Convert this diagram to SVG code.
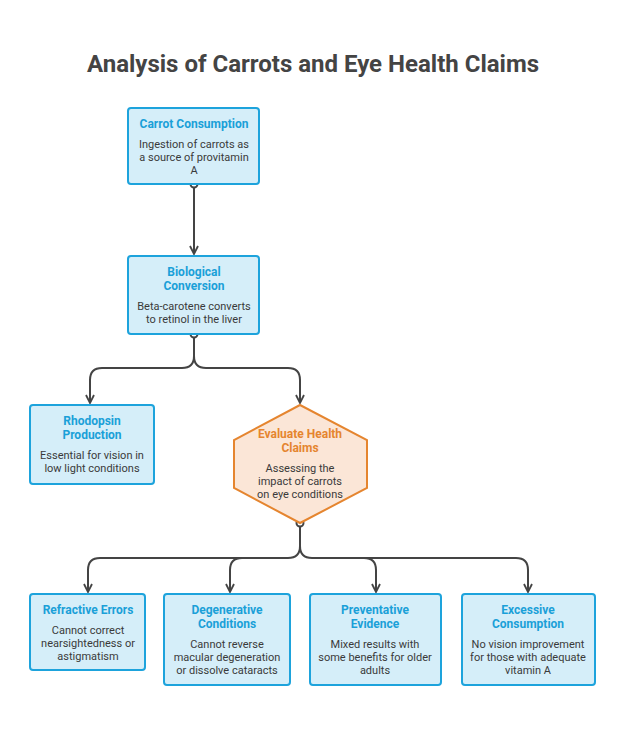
<svg xmlns="http://www.w3.org/2000/svg" width="626" height="740" viewBox="0 0 626 740">
<defs>
<style>
.box{fill:#d5eef9;stroke:#1da3dc;stroke-width:2}
.hex{fill:#fbe6d7;stroke:#e5852f;stroke-width:2}
.t{font-family:Roboto,"Liberation Sans",sans-serif;font-size:12px;font-weight:bold;fill:#1aa0d8;text-anchor:middle}
.to{fill:#e5852f}
.d{font-family:Roboto,"Liberation Sans",sans-serif;font-size:11px;fill:#3a3a3a;text-anchor:middle}
.c{fill:none;stroke:#444;stroke-width:2}
.dot{fill:#fff;stroke:#444;stroke-width:2}
</style>
<marker id="ar" viewBox="0 0 10 10" refX="9" refY="5" markerWidth="10" markerHeight="10" markerUnits="userSpaceOnUse" orient="auto"><path d="M1,1 L9,5 L1,9" fill="none" stroke="#444" stroke-width="1.8"/></marker>
</defs>
<rect width="626" height="740" fill="#fff"/>
<text x="313" y="72" font-family="Roboto,'Liberation Sans',sans-serif" font-size="24" font-weight="bold" fill="#444" text-anchor="middle">Analysis of Carrots and Eye Health Claims</text>
<g id="connectors">
<path class="c" d="M194,184 V254" marker-end="url(#ar)"/>
<path class="c" d="M194,334 V356 Q194,368 182,368 H102 Q90,368 90,380 V403" marker-end="url(#ar)"/>
<path class="c" d="M194,356 Q194,368 206,368 H288 Q300,368 300,380 V403" marker-end="url(#ar)"/>
<path class="c" d="M300,523 V546 Q300,558 288,558 H100 Q88,558 88,570 V592" marker-end="url(#ar)"/>
<path class="c" d="M242,558 Q230,558 230,570 V592" marker-end="url(#ar)"/>
<path class="c" d="M300,546 Q300,558 312,558 H516 Q528,558 528,570 V592" marker-end="url(#ar)"/>
<path class="c" d="M364,558 Q376,558 376,570 V592" marker-end="url(#ar)"/>
<circle class="dot" cx="194" cy="184" r="3.5"/>
<circle class="dot" cx="194" cy="334" r="3.5"/>
<circle class="dot" cx="300" cy="523" r="3.5"/>
</g>
<g id="carrot"><rect class="box" x="128" y="108" width="131" height="76" rx="3"/>
<text class="t" x="194" y="128">Carrot Consumption</text>
<text class="d" x="194" y="148">Ingestion of carrots as</text><text class="d" x="194" y="161">a source of provitamin</text><text class="d" x="194" y="174">A</text></g>
<g id="bio"><rect class="box" x="128" y="256" width="131" height="78" rx="3"/>
<text class="t" x="194" y="276">Biological</text><text class="t" x="194" y="290">Conversion</text>
<text class="d" x="194" y="310">Beta-carotene converts</text><text class="d" x="194" y="323">to retinol in the liver</text></g>
<g id="rhod"><rect class="box" x="30" y="405" width="124" height="79" rx="3"/>
<text class="t" x="92" y="425">Rhodopsin</text><text class="t" x="92" y="439">Production</text>
<text class="d" x="92" y="459">Essential for vision in</text><text class="d" x="92" y="472">low light conditions</text></g>
<g id="eval"><polygon class="hex" points="300,405 367,440 367,488 300,523 234,488 234,440"/>
<text class="t to" x="300" y="438">Evaluate Health</text><text class="t to" x="300" y="452">Claims</text>
<text class="d" x="300" y="472">Assessing the</text><text class="d" x="300" y="485">impact of carrots</text><text class="d" x="300" y="498">on eye conditions</text></g>
<g id="refr"><rect class="box" x="30" y="594" width="115" height="76" rx="3"/>
<text class="t" x="88" y="614">Refractive Errors</text>
<text class="d" x="88" y="634">Cannot correct</text><text class="d" x="88" y="647">nearsightedness or</text><text class="d" x="88" y="660">astigmatism</text></g>
<g id="degen"><rect class="box" x="164" y="594" width="126" height="91" rx="3"/>
<text class="t" x="227" y="614">Degenerative</text><text class="t" x="227" y="628">Conditions</text>
<text class="d" x="227" y="648">Cannot reverse</text><text class="d" x="227" y="661">macular degeneration</text><text class="d" x="227" y="674">or dissolve cataracts</text></g>
<g id="prev"><rect class="box" x="310" y="594" width="131" height="91" rx="3"/>
<text class="t" x="375" y="614">Preventative</text><text class="t" x="375" y="628">Evidence</text>
<text class="d" x="375" y="648">Mixed results with</text><text class="d" x="375" y="661">some benefits for older</text><text class="d" x="375" y="674">adults</text></g>
<g id="exc"><rect class="box" x="462" y="594" width="133" height="91" rx="3"/>
<text class="t" x="528" y="614">Excessive</text><text class="t" x="528" y="628">Consumption</text>
<text class="d" x="528" y="648">No vision improvement</text><text class="d" x="528" y="661">for those with adequate</text><text class="d" x="528" y="674">vitamin A</text></g>
</svg>
